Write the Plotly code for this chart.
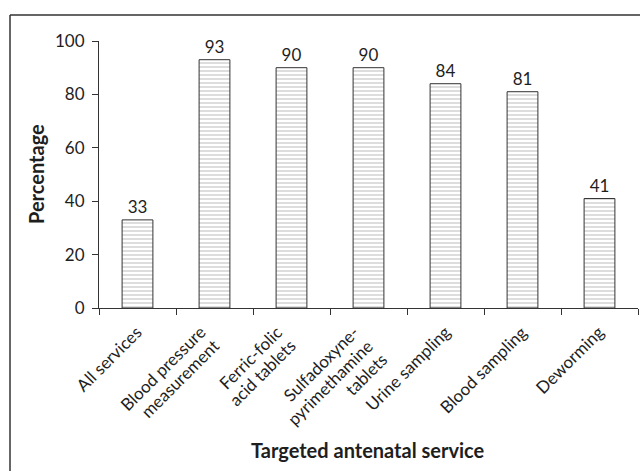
import plotly.graph_objects as go

categories = ["All services", "Blood pressure<br>measurement", "Ferric-folic<br>acid tablets",
              "Sulfadoxyne-<br>pyrimethamine<br>tablets", "Urine sampling", "Blood sampling", "Deworming"]
values = [33, 93, 90, 90, 84, 81, 41]
y_ticks = [0, 20, 40, 60, 80, 100]

FONT = "Lato, 'Open Sans', sans-serif"
TXT = "#1e1e1e"

# plot area in pixels: x 99..638, y 41..308
L, R, T, B = 99, 638, 41, 308
PW, PH = R - L, B - T

def px(x):
    return (x - L) / PW

def py(y):
    return (B - y) / PH

LBL_SIZE = 17
LINE_H = 21          # rendered height of one text line (px)
LINE_STEP = 14       # diagonal offset between successive lines (px, each of x and y)

annotations = []
for i, cat in enumerate(categories):
    lines = cat.split("<br>")
    dx0 = 0 if len(lines) == 1 else -14
    for k, line in enumerate(lines):
        annotations.append(dict(
            text=line, xref="x", yref="paper", x=i, y=0,
            xanchor="right", yanchor="top", textangle=-45, showarrow=False,
            borderpad=0,
            xshift=dx0 - 5 + k * LINE_STEP + 0.707 * LINE_H,
            yshift=-(320 - B) - k * LINE_STEP,
            font=dict(family=FONT, size=LBL_SIZE, color=TXT),
        ))

annotations += [
    dict(text="<b>Targeted antenatal service</b>", xref="paper", yref="paper",
         x=px(368), y=py(450), xanchor="center", yanchor="middle",
         showarrow=False, font=dict(family=FONT, size=20, color=TXT)),
    dict(text="<b>Percentage</b>", xref="paper", yref="paper",
         x=px(36), y=py(174), xanchor="center", yanchor="middle",
         textangle=-90, showarrow=False, font=dict(family=FONT, size=20, color=TXT)),
]

fig = go.Figure()
fig.add_trace(go.Bar(
    x=categories, y=values,
    text=[str(v) for v in values], textposition="outside",
    textfont=dict(family=FONT, size=17, color=TXT),
    cliponaxis=False,
    width=0.4,
    marker=dict(
        color="white",
        line=dict(color="#333", width=1),
        pattern=dict(shape="-", fgcolor="#777", bgcolor="white", size=4, solidity=0.25),
    ),
))

fig.update_layout(
    width=640, height=471,
    margin=dict(l=L, r=640 - R, t=T, b=471 - B),
    paper_bgcolor="white", plot_bgcolor="white",
    showlegend=False,
    font=dict(family=FONT, size=17, color=TXT),
    xaxis=dict(
        type="category", range=[-0.5, 6.5],
        showline=True, linecolor="#333", linewidth=1,
        ticks="outside", tickson="boundaries", ticklen=6, tickcolor="#333",
        showticklabels=False,
        showgrid=False, zeroline=False,
    ),
    yaxis=dict(
        range=[0, 100], tickvals=y_ticks,
        showline=True, linecolor="#333", linewidth=1,
        ticks="outside", ticklen=6, tickcolor="#333",
        tickfont=dict(family=FONT, size=17, color=TXT),
        ticklabelstandoff=4,
        showgrid=False, zeroline=False,
    ),
    annotations=annotations,
    shapes=[
        dict(type="line", xref="paper", yref="paper",
             x0=px(10), x1=px(10), y0=py(15), y1=py(480),
             line=dict(color="#333", width=1.5)),
        dict(type="line", xref="paper", yref="paper",
             x0=px(10), x1=px(650), y0=py(15), y1=py(15),
             line=dict(color="#333", width=1.5)),
    ],
)

fig.write_html("out.html")
